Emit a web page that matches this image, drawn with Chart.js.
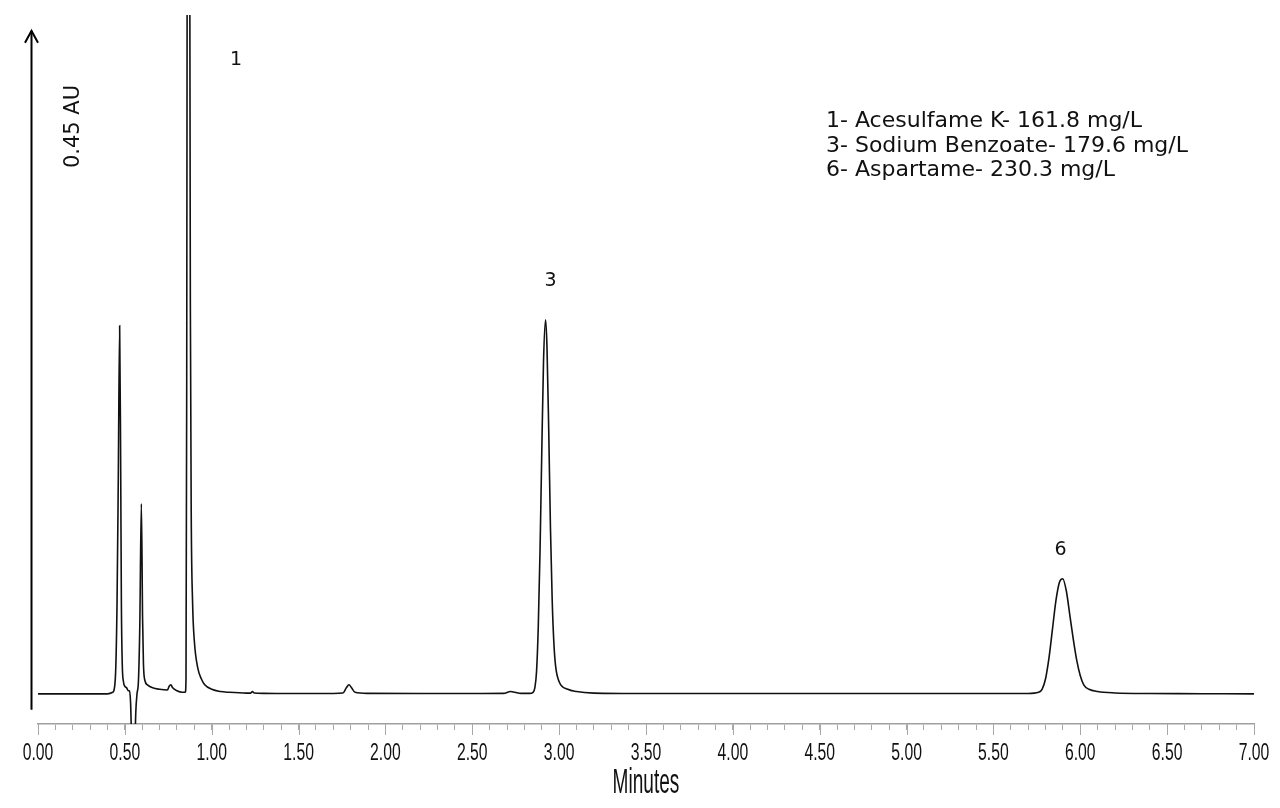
<!DOCTYPE html>
<html>
<head>
<meta charset="utf-8">
<script src="https://cdn.jsdelivr.net/npm/chart.js@4.4.1/dist/chart.umd.min.js"></script>
<style>
  html, body { margin: 0; padding: 0; background: #ffffff; }
  #wrap { width: 1280px; height: 808px; position: relative; }
</style>
</head>
<body>
<div id="wrap"><canvas id="c"></canvas></div>
<script>
// ---- Data (time in minutes, absorbance in AU above baseline) ----
const times = [
  0.00, 0.10, 0.20, 0.30, 0.40, 0.430, 0.445, 0.455, 0.462, 0.470,
  0.476, 0.480, 0.485, 0.492, 0.500, 0.510, 0.520, 0.527, 0.533, 0.540,
  0.548, 0.556, 0.563, 0.570, 0.578, 0.586, 0.595, 0.602, 0.607, 0.615,
  0.630, 0.660, 0.700, 0.745, 0.755, 0.765, 0.775, 0.800, 0.830, 0.848,
  0.852, 0.856, 0.861, 0.866, 0.872, 0.877, 0.882, 0.890, 0.900, 0.920,
  0.940, 0.960, 1.000, 1.050, 1.100, 1.200, 1.225, 1.234, 1.245, 1.300,
  1.500, 1.700, 1.755, 1.775, 1.790, 1.805, 1.825, 1.900, 2.200, 2.500,
  2.680, 2.720, 2.745, 2.780, 2.830, 2.850, 2.860, 2.870, 2.880, 2.890,
  2.900, 2.910, 2.922, 2.930, 2.940, 2.950, 2.960, 2.970, 2.980, 3.000,
  3.050, 3.100, 3.200, 3.500, 4.000, 4.500, 5.000, 5.500, 5.700, 5.760,
  5.780, 5.800, 5.820, 5.840, 5.860, 5.880, 5.899, 5.920, 5.940, 5.960,
  5.980, 6.000, 6.020, 6.050, 6.100, 6.200, 6.400, 6.700, 7.000
];
const absorbance = [
  0.0000, 0.0000, 0.0000, 0.0000, 0.0000, 0.0010, 0.0100, 0.0600, 0.1400, 0.2440,
  0.1500, 0.0600, 0.0200, 0.0080, 0.0050, 0.0040, 0.0020, 0.0020, -0.0060, -0.0350,
  -0.0450, -0.0400, -0.0120, 0.0000, 0.0080, 0.0450, 0.1260, 0.0500, 0.0200, 0.0090,
  0.0060, 0.0040, 0.0030, 0.0025, 0.0050, 0.0060, 0.0040, 0.0020, 0.0010, 0.0010,
  0.0100, 0.2000, 0.7500, 1.3000, 0.6000, 0.2600, 0.1200, 0.0600, 0.0350, 0.0170,
  0.0100, 0.0060, 0.0030, 0.0015, 0.0010, 0.0005, 0.0005, 0.0015, 0.0005, 0.0003,
  0.0002, 0.0002, 0.0005, 0.0040, 0.0060, 0.0040, 0.0010, 0.0003, 0.0002, 0.0002,
  0.0003, 0.0015, 0.0010, 0.0003, 0.0003, 0.0010, 0.0040, 0.0150, 0.0450, 0.0950,
  0.1600, 0.2200, 0.2480, 0.2300, 0.1750, 0.1100, 0.0620, 0.0330, 0.0180, 0.0080,
  0.0030, 0.0015, 0.0005, 0.0002, 0.0002, 0.0002, 0.0002, 0.0002, 0.0002, 0.0010,
  0.0030, 0.0100, 0.0240, 0.0430, 0.0620, 0.0740, 0.0763, 0.0680, 0.0520, 0.0360,
  0.0220, 0.0120, 0.0060, 0.0030, 0.0015, 0.0006, 0.0002, 0.0001, 0.0000
];
const xTickLabels = ['0.00','0.50','1.00','1.50','2.00','2.50','3.00','3.50','4.00','4.50','5.00','5.50','6.00','6.50','7.00'];
const xAxisTitle = 'Minutes';
const peakNames = ['1', '3', '6'];
const peakLabelTimes = [1.140, 2.951, 5.887];
const peakLabelAU = [0.420, 0.2735, 0.0954];
const legendLines = [
  '1- Acesulfame K- 161.8 mg/L',
  '3- Sodium Benzoate- 179.6 mg/L',
  '6- Aspartame- 230.3 mg/L'
];
const scaleBarText = '0.45 AU';
const scaleBarBase = -0.0105;
const scaleBarLength = 0.45;

const points = times.map((t, i) => ({ x: t, y: absorbance[i] }));

const bgPlugin = {
  id: 'bg',
  beforeDraw(chart) {
    const ctx = chart.ctx;
    ctx.save();
    ctx.fillStyle = '#ffffff';
    ctx.fillRect(0, 0, chart.width, chart.height);
    ctx.restore();
  }
};

// narrow (horizontally condensed) text helper
function narrowText(ctx, text, x, y, sx) {
  ctx.save();
  ctx.translate(x, y);
  ctx.scale(sx, 1);
  ctx.fillText(text, 0, 0);
  ctx.restore();
}

const decorPlugin = {
  id: 'decor',
  afterDraw(chart) {
    const ctx = chart.ctx;
    const xs = chart.scales.x, ys = chart.scales.y;
    const area = chart.chartArea;
    ctx.save();
    // longer major ticks + condensed tick labels, taken from the x scale's own ticks
    ctx.strokeStyle = '#a8a8a8';
    ctx.lineWidth = 1;
    ctx.fillStyle = '#111111';
    ctx.font = '23px "Liberation Sans", Arial, sans-serif';
    ctx.textAlign = 'center';
    ctx.textBaseline = 'alphabetic';
    xs.ticks.forEach((tk, i) => {
      if (!tk.label) return;
      const px = xs.getPixelForTick(i);
      const sx = Math.round(px) + 0.5;
      ctx.beginPath();
      ctx.moveTo(sx, area.bottom);
      ctx.lineTo(sx, area.bottom + 11);
      ctx.stroke();
      narrowText(ctx, tk.label, px, area.bottom + 36, 0.685);
    });
    // axis title
    ctx.font = '35px "Liberation Sans", Arial, sans-serif';
    narrowText(ctx, xAxisTitle, (area.left + area.right) / 2, area.bottom + 69, 0.545);

    // scale bar arrow
    const ax = area.left - 6.5;
    const yb = ys.getPixelForValue(scaleBarBase);
    const yt = ys.getPixelForValue(scaleBarBase + scaleBarLength);
    ctx.strokeStyle = '#000000';
    ctx.lineWidth = 2;
    ctx.beginPath();
    ctx.moveTo(ax, yb);
    ctx.lineTo(ax, yt);
    ctx.stroke();
    ctx.beginPath();
    ctx.moveTo(ax - 6.5, yt + 12);
    ctx.lineTo(ax, yt);
    ctx.lineTo(ax + 6.5, yt + 12);
    ctx.stroke();
    // scale bar text
    ctx.fillStyle = '#111111';
    ctx.font = '21px "DejaVu Sans", Verdana, sans-serif';
    ctx.textAlign = 'center';
    ctx.textBaseline = 'middle';
    ctx.save();
    ctx.translate(area.left + 35.5, 126.5);
    ctx.rotate(-Math.PI / 2);
    ctx.fillText(scaleBarText, 0, 0);
    ctx.restore();
    // peak labels
    ctx.font = '19px "DejaVu Sans", Verdana, sans-serif';
    for (let i = 0; i < peakNames.length; i++) {
      ctx.fillText(peakNames[i], xs.getPixelForValue(peakLabelTimes[i]), ys.getPixelForValue(peakLabelAU[i]));
    }
    // legend text
    ctx.font = '22px "DejaVu Sans", Verdana, sans-serif';
    ctx.textAlign = 'left';
    for (let i = 0; i < legendLines.length; i++) {
      ctx.fillText(legendLines[i], 826, 121 + i * 24.8);
    }
    ctx.restore();
  }
};

new Chart(document.getElementById('c'), {
  type: 'line',
  data: {
    datasets: [{
      data: points,
      borderColor: '#111111',
      borderWidth: 1.6,
      pointRadius: 0,
      fill: false,
      cubicInterpolationMode: 'monotone'
    }]
  },
  options: {
    responsive: true,
    maintainAspectRatio: false,
    animation: false,
    events: [],
    layout: { padding: { left: 38, right: 26, top: 15, bottom: 78 } },
    plugins: { legend: { display: false }, tooltip: { enabled: false } },
    scales: {
      x: {
        type: 'linear',
        min: 0, max: 7,
        grid: { display: true, drawOnChartArea: false, drawTicks: true, tickLength: 6, color: '#a8a8a8', lineWidth: 1 },
        border: { display: true, color: '#a0a0a0', width: 1.5 },
        ticks: {
          display: false,
          stepSize: 0.1,
          autoSkip: false,
          maxRotation: 0,
          callback: function (v) {
            const k = Math.round(v * 10);
            return (k % 5 === 0) ? xTickLabels[k / 5] : '';
          }
        },
        title: { display: false }
      },
      y: {
        type: 'linear',
        display: false,
        min: -0.02, max: 0.45
      }
    }
  },
  plugins: [bgPlugin, decorPlugin]
});
</script>
</body>
</html>
